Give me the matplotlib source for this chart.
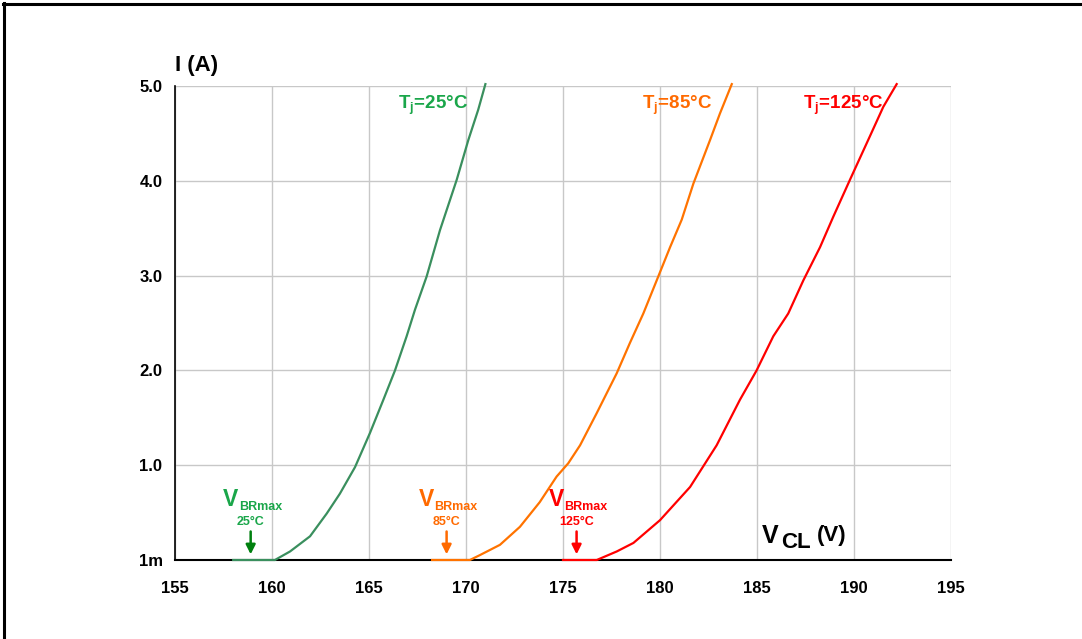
import matplotlib
matplotlib.use("Agg")
import matplotlib.pyplot as plt
from matplotlib.lines import Line2D

plt.rcParams['font.family'] = ['Liberation Sans', 'DejaVu Sans']
plt.rcParams['font.weight'] = 'bold'
plt.rcParams['mathtext.fontset'] = 'custom'
plt.rcParams['mathtext.rm'] = 'Liberation Sans:bold'
plt.rcParams['mathtext.bf'] = 'Liberation Sans:bold'
plt.rcParams['mathtext.it'] = 'Liberation Sans:bold'

# clamping curves, V_CL (V) vs I (A)
v_25 = [158.0, 160.15, 160.93, 161.96, 162.82, 163.5, 164.28, 165.05, 165.74,
        166.34, 166.94, 167.37, 167.97, 168.66, 169.52, 170.12, 170.63, 171.0]
i_25 = [0.0, 0.0, 0.09, 0.25, 0.49, 0.70, 0.98, 1.34, 1.69,
        2.0, 2.36, 2.64, 2.99, 3.48, 4.01, 4.43, 4.75, 5.02]

v_85 = [168.25, 170.2, 170.7, 171.75, 172.78, 173.8, 174.67, 175.27, 175.88,
        176.74, 177.77, 178.45, 179.14, 179.91, 180.52, 181.12, 181.72,
        182.58, 183.09, 183.7]
i_85 = [0.0, 0.0, 0.05, 0.16, 0.35, 0.61, 0.88, 1.02, 1.21,
        1.55, 1.97, 2.29, 2.60, 2.99, 3.30, 3.59, 3.97,
        4.43, 4.71, 5.02]

v_125 = [175.0, 176.74, 177.77, 178.63, 180.0, 181.55, 182.92, 184.12, 184.98,
         185.84, 186.61, 187.39, 188.25, 188.93, 189.79, 190.82, 191.51, 192.2]
i_125 = [0.0, 0.0, 0.09, 0.18, 0.42, 0.77, 1.21, 1.69, 2.0,
         2.36, 2.60, 2.95, 3.30, 3.62, 4.01, 4.47, 4.78, 5.02]

temps = ['25', '85', '125']
vbr_max = [158.9, 169.0, 175.7]

x_ticks = [155, 160, 165, 170, 175, 180, 185, 190, 195]
y_ticks = [0, 1, 2, 3, 4, 5]
y_labels = ['1m', '1.0', '2.0', '3.0', '4.0', '5.0']

line_colors = ['#3a8f5e', '#ff7300', '#ff0000']
text_colors = ['#1aa64a', '#ff6a00', '#ff0000']
arrow_colors = ['#00800f', '#ff6a00', '#ff0000']

W, H = 1082, 639
fig = plt.figure(figsize=(W / 100, H / 100), dpi=100)
ax = fig.add_axes([175 / W, 1 - 560 / H, 776 / W, 474 / H])

curves = [(v_25, i_25), (v_85, i_85), (v_125, i_125)]
for (vx, iy), c in zip(curves, line_colors):
    ax.plot(vx, iy, color=c, lw=1.6, clip_on=False, zorder=3,
            solid_joinstyle='round')

ax.set_xlim(155, 195)
ax.set_ylim(0, 5)
ax.set_xticks(x_ticks)
ax.set_yticks(y_ticks)
ax.set_yticklabels(y_labels)
ax.tick_params(axis='both', length=0, labelsize=12)
ax.tick_params(axis='x', pad=15)
ax.tick_params(axis='y', pad=9)
ax.grid(True, color='#c8c8c8', lw=1)
ax.set_axisbelow(True)
for s in ['top', 'right']:
    ax.spines[s].set_visible(False)
ax.spines['left'].set_linewidth(1.2)
ax.spines['bottom'].set_linewidth(1.5)

# Tj labels next to the top of each curve
tj_x = [170.1, 182.7, 191.5]
for t, x, c in zip(temps, tj_x, text_colors):
    ax.text(x, 4.80, r'T$_{\mathbf{j}}$=' + t + '°C', color=c, fontsize=13.5,
            ha='right', va='center')

# V_BRmax markers
for t, v, c, ac in zip(temps, vbr_max, text_colors, arrow_colors):
    ax.annotate('', xy=(v, 0.03), xytext=(v, 0.33),
                arrowprops=dict(arrowstyle='-|>', color=ac, lw=1.8,
                                mutation_scale=14))
    ax.annotate('V', xy=(v, 0), xytext=(-20, 61), textcoords='offset pixels',
                color=c, fontsize=16.5, ha='center', va='center')
    ax.annotate('BRmax', xy=(v, 0), xytext=(-12, 53), textcoords='offset pixels',
                color=c, fontsize=9, ha='left', va='center')
    ax.annotate(t + '°C', xy=(v, 0), xytext=(0, 38), textcoords='offset pixels',
                color=c, fontsize=9, ha='center', va='center')

# axis titles
fig.text(175 / W, 1 - 66 / H, 'I (A)', fontsize=16, ha='left', va='center')
fig.text(762 / W, 1 - 536 / H, 'V', fontsize=18, ha='left', va='center')
fig.text(781 / W, 1 - 543 / H, 'CL', fontsize=16, ha='left', va='center')
fig.text(817 / W, 1 - 535 / H, '(V)', fontsize=16, ha='left', va='center')

# frame
fig.add_artist(Line2D([3 / W, 1], [1 - 4 / H, 1 - 4 / H], color='black', lw=2.2))
fig.add_artist(Line2D([4 / W, 4 / W], [0, 1 - 3 / H], color='black', lw=2.2))

fig.savefig('out.png', dpi=100)
